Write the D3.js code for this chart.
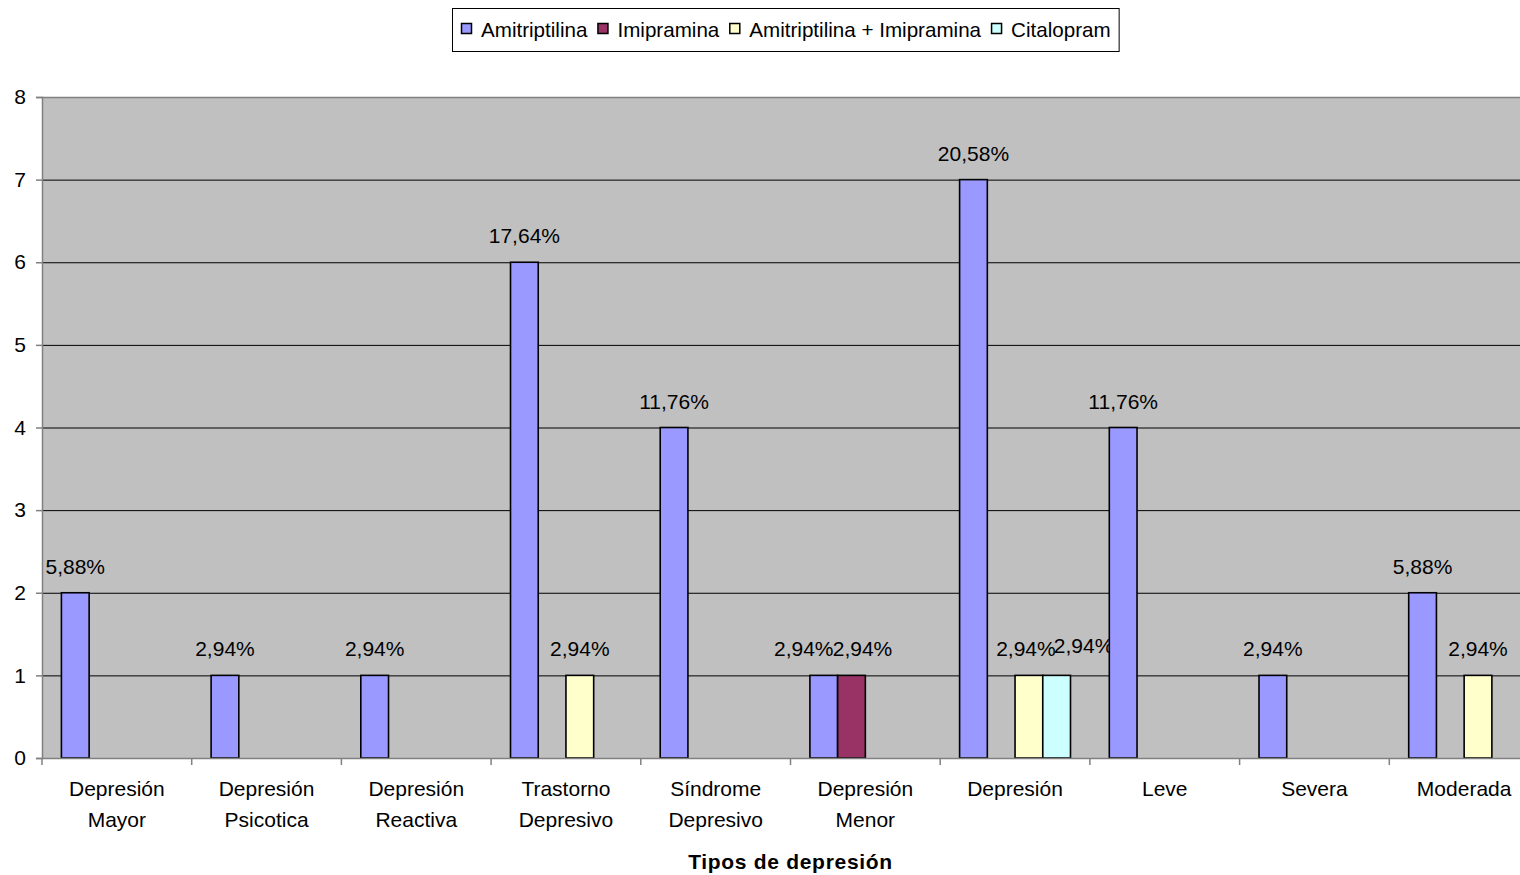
<!DOCTYPE html>
<html>
<head>
<meta charset="utf-8">
<script src="https://cdn.jsdelivr.net/npm/d3@7"></script>
<style>
  html, body { margin: 0; padding: 0; background: #ffffff; }
  svg { display: block; font-family: "Liberation Sans", Arial, sans-serif; }
</style>
</head>
<body>
<svg id="chart" width="1520" height="875"></svg>
<script>
// Tipos de depresión y número de pacientes por antidepresivo
const categories = [
  "Depresión Mayor", "Depresión Psicotica", "Depresión Reactiva", "Trastorno Depresivo",
  "Síndrome Depresivo", "Depresión Menor", "Depresión", "Leve", "Severa", "Moderada"
];
const categoryLines = [
  ["Depresión", "Mayor"], ["Depresión", "Psicotica"], ["Depresión", "Reactiva"],
  ["Trastorno", "Depresivo"], ["Síndrome", "Depresivo"], ["Depresión", "Menor"],
  ["Depresión"], ["Leve"], ["Severa"], ["Moderada"]
];
const seriesNames = ["Amitriptilina", "Imipramina", "Amitriptilina + Imipramina", "Citalopram"];
const amitriptilina = [2, 1, 1, 6, 4, 1, 7, 4, 1, 2];
const imipramina = [0, 0, 0, 0, 0, 1, 0, 0, 0, 0];
const amitriptilinaImipramina = [0, 0, 0, 1, 0, 0, 1, 0, 0, 1];
const citalopram = [0, 0, 0, 0, 0, 0, 1, 0, 0, 0];
const totalPacientes = 34;
const yTicks = [0, 1, 2, 3, 4, 5, 6, 7, 8];

const seriesValues = [amitriptilina, imipramina, amitriptilinaImipramina, citalopram];
const seriesColors = ["#9999FF", "#993366", "#FFFFCC", "#CCFFFF"];

// Small manual shifts so neighbouring percentage labels don't collide
const labelNudge = {
  "Depresión Menor|Amitriptilina": [-20, 0],
  "Depresión Menor|Imipramina": [11, 0],
  "Depresión|Amitriptilina + Imipramina": [-3, 0],
  "Depresión|Citalopram": [27, -3]
};

const svg = d3.select("#chart");
const font = 21;
const plotLeft = 42, plotRight = 1539, plotTop = 97, plotBottom = 758;

const x0 = d3.scaleBand().domain(categories).range([plotLeft, plotRight]).paddingInner(0).paddingOuter(0);
const x1 = d3.scaleBand().domain(seriesNames).range([0, x0.bandwidth()]).paddingInner(0).paddingOuter(0.7);
const y = d3.scaleLinear().domain([0, 8]).range([plotBottom, plotTop]);

// Plot area background
svg.append("rect")
  .attr("x", plotLeft).attr("y", plotTop)
  .attr("width", plotRight - plotLeft).attr("height", plotBottom - plotTop)
  .attr("fill", "#C0C0C0");

// Gridlines
svg.append("g").selectAll("line")
  .data(yTicks.filter(t => t > 0 && t < 8))
  .join("line")
  .attr("x1", plotLeft).attr("x2", plotRight)
  .attr("y1", d => y(d) + 0.5).attr("y2", d => y(d) + 0.5)
  .attr("stroke", "#000").attr("stroke-width", 1);

// Plot border (top)
svg.append("line")
  .attr("x1", plotLeft).attr("x2", plotRight)
  .attr("y1", y(8) + 0.5).attr("y2", y(8) + 0.5)
  .attr("stroke", "#808080").attr("stroke-width", 1.5);

// Y axis
const yAxis = svg.append("g")
  .attr("transform", `translate(${plotLeft},0)`)
  .call(d3.axisLeft(y).tickValues(yTicks).tickSize(6).tickPadding(10).tickFormat(d3.format("d")));
yAxis.select(".domain").attr("stroke", "#808080").attr("stroke-width", 1.5);
yAxis.selectAll(".tick line").attr("stroke", "#808080").attr("stroke-width", 1.5);
yAxis.selectAll(".tick text")
  .attr("font-size", font).attr("fill", "#000")
  .attr("font-family", "'Liberation Sans', Arial, sans-serif");

// Bars
const groups = svg.append("g").selectAll("g")
  .data(categories)
  .join("g")
  .attr("transform", d => `translate(${x0(d)},0)`);

const barData = (c, i) => seriesNames.map((s, k) => ({ cat: c, series: s, value: seriesValues[k][i], color: seriesColors[k] }));

groups.selectAll("rect")
  .data((c, i) => barData(c, i).filter(d => d.value > 0))
  .join("rect")
  .attr("x", d => x1(d.series))
  .attr("y", d => y(d.value))
  .attr("width", x1.bandwidth())
  .attr("height", d => y(0) - y(d.value))
  .attr("fill", d => d.color)
  .attr("stroke", "#000").attr("stroke-width", 1.6);

// Percentage labels (count / total, truncated to two decimals)
const pct = v => (Math.floor(v / totalPacientes * 10000 + 1e-9) / 100).toFixed(2).replace(".", ",") + "%";
groups.selectAll("text.val")
  .data((c, i) => barData(c, i).filter(d => d.value > 0))
  .join("text")
  .attr("class", "val")
  .attr("x", d => x1(d.series) + x1.bandwidth() / 2 + (labelNudge[d.cat + "|" + d.series] || [0, 0])[0])
  .attr("y", d => y(d.value) - 19 + (labelNudge[d.cat + "|" + d.series] || [0, 0])[1])
  .attr("text-anchor", "middle")
  .attr("font-size", font).attr("fill", "#000")
  .text(d => pct(d.value));

// X axis line and tick marks between categories
svg.append("line")
  .attr("x1", plotLeft).attr("x2", plotRight)
  .attr("y1", plotBottom + 0.5).attr("y2", plotBottom + 0.5)
  .attr("stroke", "#808080").attr("stroke-width", 1.5);
svg.append("g").selectAll("line")
  .data(d3.range(categories.length + 1))
  .join("line")
  .attr("x1", i => plotLeft + i * x0.step()).attr("x2", i => plotLeft + i * x0.step())
  .attr("y1", plotBottom).attr("y2", plotBottom + 7)
  .attr("stroke", "#808080").attr("stroke-width", 1.5);

// Category labels
const catText = svg.append("g").selectAll("text")
  .data(categories)
  .join("text")
  .attr("text-anchor", "middle")
  .attr("font-size", font).attr("fill", "#000")
  .attr("x", d => x0(d) + x0.bandwidth() / 2)
  .attr("y", 796);
catText.selectAll("tspan")
  .data((d, i) => categoryLines[i])
  .join("tspan")
  .attr("x", function () { return d3.select(this.parentNode).attr("x"); })
  .attr("dy", (d, j) => j === 0 ? 0 : 30.5)
  .text(d => d);

// Axis title
svg.append("text")
  .attr("x", (plotLeft + plotRight) / 2).attr("y", 869)
  .attr("text-anchor", "middle")
  .attr("font-size", font).attr("font-weight", "bold")
  .attr("letter-spacing", 0.7)
  .attr("fill", "#000")
  .text("Tipos de depresión");

// Legend
const legendFont = 20.6;
const legend = svg.append("g");
const legendBox = legend.append("rect")
  .attr("fill", "#fff").attr("stroke", "#000").attr("stroke-width", 1);
let lx = 0;
seriesNames.forEach((name, k) => {
  const g = legend.append("g").attr("transform", `translate(${lx},0)`);
  g.append("rect")
    .attr("x", 0.5).attr("y", -5.5).attr("width", 10).attr("height", 10)
    .attr("fill", seriesColors[k]).attr("stroke", "#000").attr("stroke-width", 1.5);
  const t = g.append("text")
    .attr("x", 20).attr("y", 7.5)
    .attr("font-size", legendFont).attr("fill", "#000")
    .text(name);
  const w = t.node().getComputedTextLength();
  lx += 20 + w + 10;
});
const legendW = lx - 10;
const legendX = 461;
legend.attr("transform", `translate(${legendX},29)`);
legendBox
  .attr("x", -8.5).attr("y", -20.5)
  .attr("width", legendW + 17).attr("height", 43);
</script>
</body>
</html>
